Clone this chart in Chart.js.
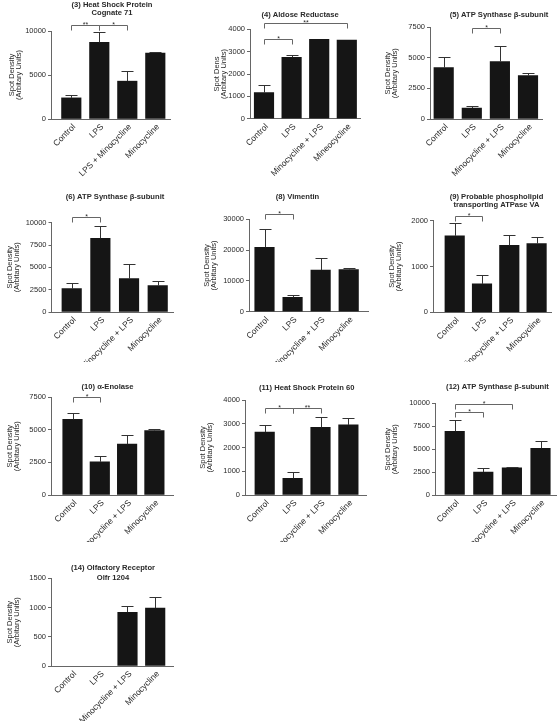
<!DOCTYPE html>
<html lang="en">
<head>
<meta charset="UTF-8">
<title>Spot Density - protein panels</title>
<script src="https://cdn.jsdelivr.net/npm/chart.js"></script>
<style>
  body { margin: 0; background: #fff; }
  #fig { position: relative; width: 560px; height: 721px; overflow: hidden; }
  #fig canvas { position: absolute; }
</style>
</head>
<body>
<div id="fig"></div>

<script>
// ---- groups (x categories) ----
const groupsHsc = ['Control', 'LPS', 'LPS + Minocycline', 'Minocycline'];
const groupsStd = ['Control', 'LPS', 'Minocycline + LPS', 'Minocycline'];
const groupsAldose = ['Control', 'LPS', 'Minocycline + LPS', 'Mineocycline'];

const yTitleFull = ['Spot Density', '(Arbitary Units)'];
const yTitleShort = ['Spot Dens', '(Arbitary Units)'];

// ---- mean spot density and error (SEM) per group ----
const hsc71Mean = [2400, 8700, 4300, 7500];
const hsc71Sem = [300, 1200, 1100, 150];
const aldoseMean = [1170, 2750, 3550, 3520];
const aldoseSem = [330, 80, 0, 0];
const atp5Mean = [4200, 900, 4700, 3550];
const atp5Sem = [900, 200, 1300, 200];
const atp6Mean = [2610, 8250, 3730, 2950];
const atp6Sem = [670, 1410, 1680, 550];
const vimMean = [20900, 4650, 13500, 13700];
const vimSem = [5800, 750, 3800, 650];
const pltpMean = [1670, 620, 1460, 1500];
const pltpSem = [290, 190, 220, 150];
const enoMean = [5800, 2550, 3900, 4950];
const enoSem = [500, 420, 700, 150];
const hsp60Mean = [2650, 700, 2850, 2950];
const hsp60Sem = [300, 250, 450, 300];
const atp12Mean = [6950, 2500, 2950, 5100];
const atp12Sem = [1200, 400, 100, 750];
const olfrMean = [0, 0, 920, 990];
const olfrSem = [0, 0, 100, 190];

// ---- y axis ranges (max, step) ----
const yMaxes = [10000, 4000, 7500, 10000, 30000, 2000, 7500, 4000, 10000, 1500];
const ySteps = [5000, 1000, 2500, 2500, 10000, 1000, 2500, 1000, 2500, 500];

// ---- significance brackets: [from, to, height, label] ----
const hsc71Sig = [[0, 1, 10680, '**'], [1, 2, 10680, '*']];
const aldoseSig = [[0, 1, 3570, '*'], [0, 3, 4270, '**']];
const atp5Sig = [[1, 2, 7420, '*']];
const atp6Sig = [[0, 1, 10600, '*']];
const vimSig = [[0, 1, 31600, '*']];
const pltpSig = [[0, 1, 2110, '*']];
const enoSig = [[0, 1, 7500, '*']];
const hsp60Sig = [[0, 1, 3650, '*'], [1, 2, 3650, '**']];
const atp12Sig = [[0, 2, 9890, '*'], [0, 1, 9020, '*']];
const olfrSig = [];

const panels = [
  { title: ['(3) Heat Shock Protein', 'Cognate 71'], yTitle: yTitleFull, groups: groupsHsc, mean: hsc71Mean, sem: hsc71Sem, sig: hsc71Sig },
  { title: ['(4) Aldose Reductase'], yTitle: yTitleShort, groups: groupsAldose, mean: aldoseMean, sem: aldoseSem, sig: aldoseSig },
  { title: ['(5) ATP Synthase β-subunit'], yTitle: yTitleFull, groups: groupsStd, mean: atp5Mean, sem: atp5Sem, sig: atp5Sig },
  { title: ['(6) ATP Synthase β-subunit'], yTitle: yTitleFull, groups: groupsStd, mean: atp6Mean, sem: atp6Sem, sig: atp6Sig },
  { title: ['(8) Vimentin'], yTitle: yTitleFull, groups: groupsStd, mean: vimMean, sem: vimSem, sig: vimSig },
  { title: ['(9) Probable phospholipid', 'transporting ATPase VA'], yTitle: yTitleFull, groups: groupsStd, mean: pltpMean, sem: pltpSem, sig: pltpSig },
  { title: ['(10) α-Enolase'], yTitle: yTitleFull, groups: groupsStd, mean: enoMean, sem: enoSem, sig: enoSig },
  { title: ['(11) Heat Shock Protein 60'], yTitle: yTitleFull, groups: groupsStd, mean: hsp60Mean, sem: hsp60Sem, sig: hsp60Sig },
  { title: ['(12) ATP Synthase β-subunit'], yTitle: yTitleFull, groups: groupsStd, mean: atp12Mean, sem: atp12Sem, sig: atp12Sig },
  { title: ['(14) Olfactory Receptor', 'Olfr 1204'], yTitle: yTitleFull, groups: groupsStd, mean: olfrMean, sem: olfrSem, sig: olfrSig }
];

// ---- page layout for each panel (page pixels) ----
// canvas: [x, y, w, h]; area: [left, top, right, bottom]; c0/step: first bar centre and spacing
// yt: centre of first y-title line; tx/ty: panel title centre
const boxes = [
  { canvas: [0, 0, 185, 180], area: [51, 31, 170, 119], c0: 71.3, step: 28, yt: 11.7, tx: 112, ty: [5, 13.3] },
  { canvas: [185, 0, 185, 180], area: [250, 29.3, 360, 118.7], c0: 264, step: 27.6, yt: 216.5, tx: 300, ty: [15] },
  { canvas: [370, 0, 190, 180], area: [430, 27.3, 542, 119], c0: 443.7, step: 28.1, yt: 388.3, tx: 499, ty: [15] },
  { canvas: [0, 180, 185, 182], area: [51.5, 222.7, 173, 312], c0: 71.7, step: 28.67, yt: 10, tx: 115, ty: [197.3] },
  { canvas: [185, 180, 185, 182], area: [249, 219.3, 368.3, 311.7], c0: 264.5, step: 28.07, yt: 206.7, tx: 297.5, ty: [197.3] },
  { canvas: [370, 180, 190, 182], area: [433, 220.7, 551.7, 312.3], c0: 454.7, step: 27.3, yt: 391.7, tx: 496.5, ty: [197.3, 205] },
  { canvas: [0, 360, 185, 182], area: [51, 397.3, 173, 495], c0: 72.5, step: 27.3, yt: 10, tx: 107.5, ty: [386.7] },
  { canvas: [185, 360, 185, 182], area: [245, 400, 366.7, 495], c0: 264.7, step: 27.9, yt: 203, tx: 306.7, ty: [388.3] },
  { canvas: [370, 360, 190, 182], area: [435, 403.3, 556.7, 495], c0: 454.7, step: 28.6, yt: 388, tx: 497.5, ty: [387.3] },
  { canvas: [0, 540, 185, 181], area: [51, 578.3, 173, 666], c0: 72.1, step: 27.7, yt: 10, tx: 113, ty: [568.3, 577.7] }
];

const FONT = "'Liberation Sans', Arial, Helvetica, sans-serif";
const AXIS = '#666';
const INK = '#2a2a2a';
const BAR = '#151515';
const yTitleFont = { family: FONT, size: 7.5, lineHeight: 0.95 };

// error bars, significance brackets and the panel title
function decorations(p, b) {
  return {
    id: 'decor',
    afterDatasetsDraw(chart) {
      const { ctx, scales: { x, y } } = chart;
      const snap = v => Math.round(v) + 0.5;
      ctx.save();
      ctx.lineWidth = 1;
      ctx.strokeStyle = '#333';
      p.mean.forEach((m, i) => {
        const e = p.sem[i];
        if (!e) return;
        const px = snap(x.getPixelForValue(i));
        const y0 = y.getPixelForValue(m);
        const y1 = snap(y.getPixelForValue(m + e));
        ctx.beginPath();
        ctx.moveTo(px, y0);
        ctx.lineTo(px, y1);
        ctx.moveTo(px - 6, y1);
        ctx.lineTo(px + 6, y1);
        ctx.stroke();
      });

      ctx.strokeStyle = AXIS;
      ctx.fillStyle = INK;
      ctx.font = '7px ' + FONT;
      ctx.textAlign = 'center';
      ctx.textBaseline = 'alphabetic';
      p.sig.forEach(([a, c, h, lbl]) => {
        const xa = snap(x.getPixelForValue(a));
        const xc = snap(x.getPixelForValue(c));
        const yy = snap(y.getPixelForValue(h));
        ctx.beginPath();
        ctx.moveTo(xa, yy + 5);
        ctx.lineTo(xa, yy);
        ctx.lineTo(xc, yy);
        ctx.lineTo(xc, yy + 5);
        ctx.stroke();
        ctx.fillText(lbl, (xa + xc) / 2, yy + 1);
      });
      ctx.restore();
    },
    afterDraw(chart) {
      const ctx = chart.ctx;
      ctx.save();
      ctx.fillStyle = INK;
      ctx.font = 'bold 7.6px ' + FONT;
      ctx.textAlign = 'center';
      ctx.textBaseline = 'middle';
      p.title.forEach((line, k) => {
        ctx.fillText(line, b.tx - b.canvas[0], b.ty[k] - b.canvas[1]);
      });
      ctx.restore();
    }
  };
}

const fig = document.getElementById('fig');

panels.forEach((p, idx) => {
  const b = boxes[idx];
  const [cx, cy, cw, ch] = b.canvas;
  const [L, T, R, B] = b.area;
  const padLeft = b.yt - cx - (yTitleFont.size * yTitleFont.lineHeight) / 2;

  const canvas = document.createElement('canvas');
  canvas.width = cw;
  canvas.height = ch;
  canvas.style.left = cx + 'px';
  canvas.style.top = cy + 'px';
  fig.appendChild(canvas);

  new Chart(canvas, {
    type: 'bar',
    data: {
      datasets: [{
        data: p.mean.map((v, i) => ({ x: i, y: v })),
        // empty groups (value 0) get no visible mark
        backgroundColor: c => (c.raw && c.raw.y ? BAR : 'rgba(0,0,0,0)'),
        borderWidth: 0,
        barThickness: 19.5
      }]
    },
    options: {
      responsive: false,
      animation: false,
      devicePixelRatio: 1,
      events: [],
      layout: { padding: { left: padLeft, top: T - cy, right: cx + cw - R, bottom: 0 } },
      plugins: { legend: { display: false }, tooltip: { enabled: false } },
      scales: {
        x: {
          type: 'linear',
          offset: false,
          min: (L - b.c0) / b.step,
          max: (R - b.c0) / b.step,
          grid: { display: false, drawTicks: false },
          border: { display: true, color: AXIS, width: 1 },
          ticks: {
            autoSkip: false,
            minRotation: 45,
            maxRotation: 45,
            padding: 3,
            labelOffset: 3,
            color: INK,
            font: { family: FONT, size: 8.5 },
            callback: v => p.groups[v]
          },
          afterBuildTicks: s => { s.ticks = p.groups.map((g, i) => ({ value: i })); },
          afterFit: s => { s.height = cy + ch - B; s.paddingLeft = 0; s.paddingRight = 0; }
        },
        y: {
          min: 0,
          max: yMaxes[idx],
          grid: { drawOnChartArea: false, drawTicks: true, tickLength: 3, color: AXIS },
          border: { display: true, color: AXIS, width: 1 },
          ticks: {
            stepSize: ySteps[idx],
            padding: 2,
            color: INK,
            font: { family: FONT, size: 7.5 },
            callback: v => String(v)
          },
          title: {
            display: true,
            text: p.yTitle,
            color: INK,
            font: yTitleFont,
            padding: 0
          },
          afterFit: s => { s.width = L - cx - padLeft; s.paddingTop = 0; s.paddingBottom = 0; }
        }
      }
    },
    plugins: [decorations(p, b)]
  });
});
</script>
</body>
</html>
